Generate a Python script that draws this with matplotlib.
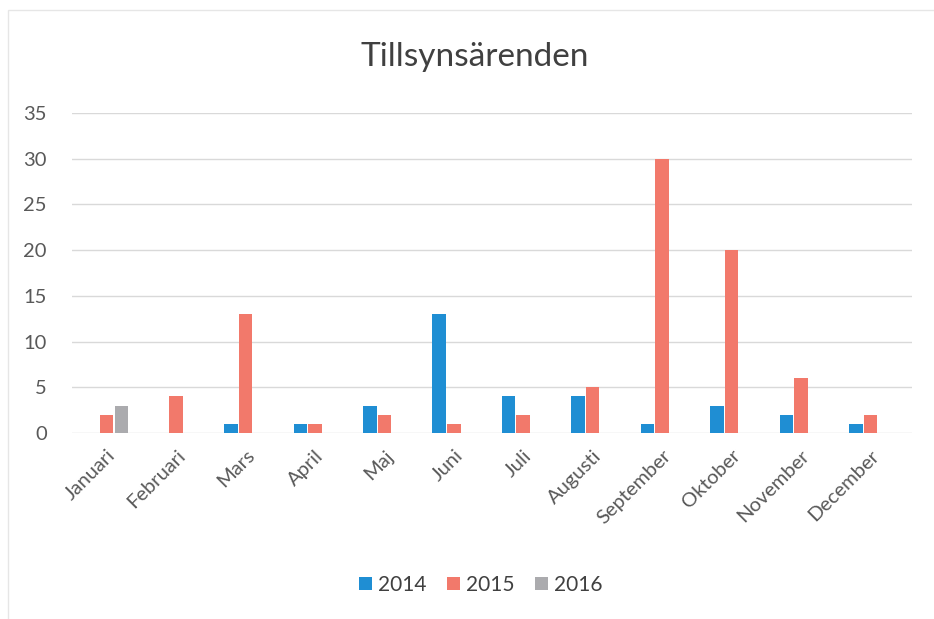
import numpy as np
import matplotlib
matplotlib.use('Agg')
import matplotlib.pyplot as plt

plt.rcParams['font.family'] = ['Lato', 'DejaVu Sans']

# data
months = ['Januari', 'Februari', 'Mars', 'April', 'Maj', 'Juni', 'Juli',
          'Augusti', 'September', 'Oktober', 'November', 'December']
v2014 = [0, 0, 1, 1, 3, 13, 4, 4, 1, 3, 2, 1]
v2015 = [2, 4, 13, 1, 2, 1, 2, 5, 30, 20, 6, 2]
v2016 = [3, 0, 0, 0, 0, 0, 0, 0, 0, 0, 0, 0]

colors = {'2014': '#1F8ED3', '2015': '#F2796B', '2016': '#ABABAE'}

fig = plt.figure(figsize=(9.34, 6.19), dpi=100)
ax = fig.add_axes([72 / 934, 1 - 433 / 619, 840 / 934, 320 / 619])

x = np.arange(len(months))
w = 0.195
step = 0.21
ax.bar(x - step, v2014, w, color=colors['2014'], label='2014', zorder=3)
ax.bar(x, v2015, w, color=colors['2015'], label='2015', zorder=3)
ax.bar(x + step, v2016, w, color=colors['2016'], label='2016', zorder=3)

ax.set_ylim(0, 35)
ax.set_yticks(range(0, 36, 5))
ax.set_xlim(-0.5, len(months) - 0.4)
ax.set_xticks(x)
ax.set_xticklabels(months, rotation=45, ha='right', rotation_mode='anchor')
ax.grid(axis='y', color='#D9D9D9', linewidth=1, zorder=0)
for s in ax.spines.values():
    s.set_visible(False)
ax.tick_params(length=0, labelsize=14.5, colors='#595959', pad=18)
ax.tick_params(axis='x', pad=10)

fig.text(0.508, 1 - 57 / 619, 'Tillsynsärenden', ha='center', va='center',
         fontsize=24, color='#404040')

fig.legend(loc='center', bbox_to_anchor=(0.515, 1 - 585 / 619), ncol=3,
           frameon=False, fontsize=15, handlelength=0.6, handleheight=0.6,
           handletextpad=0.3, columnspacing=1.0, labelcolor='#404040')

# faint border of the scanned chart area
fig.add_artist(plt.Rectangle((8 / 934, -0.01), 1.0, 1 - 10 / 619 + 0.01,
                             transform=fig.transFigure, fill=False,
                             edgecolor='#E6E6E6', linewidth=1))

fig.savefig('out.png', dpi=100)
